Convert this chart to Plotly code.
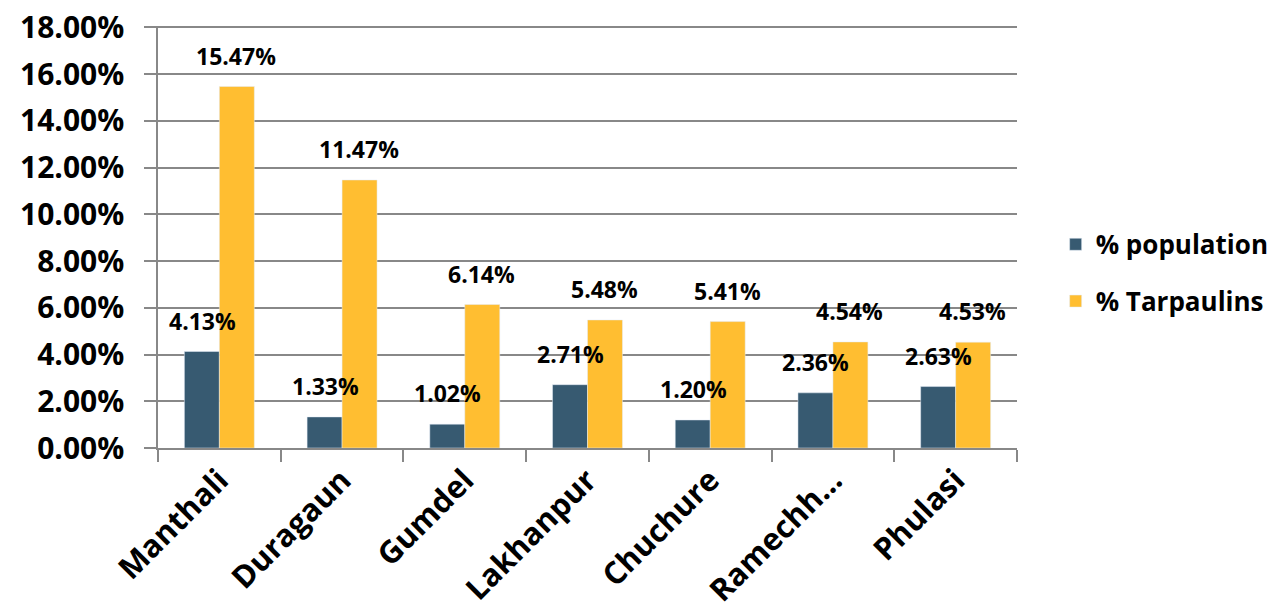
import plotly.graph_objects as go

categories = ["Manthali", "Duragaun", "Gumdel", "Lakhanpur", "Chuchure", "Ramechh...", "Phulasi"]
population = [0.0413, 0.0133, 0.0102, 0.0271, 0.0120, 0.0236, 0.0263]
tarpaulins = [0.1547, 0.1147, 0.0614, 0.0548, 0.0541, 0.0454, 0.0453]
y_ticks = [0.0, 0.02, 0.04, 0.06, 0.08, 0.10, 0.12, 0.14, 0.16, 0.18]

FONT = "Open Sans"
C_POP = "#375A71"
C_TAR = "#FFBE31"

fig = go.Figure()
fig.add_trace(go.Bar(x=categories, y=population, name="% population", marker_color=C_POP,
                     legendgroup="a"))
fig.add_trace(go.Bar(x=categories, y=tarpaulins, name="% Tarpaulins", marker_color=C_TAR,
                     legendgroup="b"))

annos = []
for i, c in enumerate(categories):
    for val, xs in ((population[i], -17), (tarpaulins[i], 17)):
        annos.append(dict(x=c, y=val, xref="x", yref="y", text=f"{val*100:.2f}%",
                          showarrow=False, xshift=xs, yshift=13, yanchor="bottom",
                          font=dict(family=FONT, size=23, color="black", weight="bold")))

fig.update_layout(
    width=1275, height=613,
    margin=dict(l=150, r=266, t=18, b=173, autoexpand=False),
    plot_bgcolor="white", paper_bgcolor="white",
    barmode="group", bargap=0.43, bargroupgap=0,
    annotations=annos,
    font=dict(family=FONT, color="black"),
    legend=dict(x=1.045, y=0.415, xanchor="left", yanchor="middle",
                font=dict(family=FONT, size=26, color="black", weight="bold"),
                tracegroupgap=20, itemwidth=30),
    xaxis=dict(showline=True, linecolor="#888888", linewidth=1.5,
               ticks="outside", ticklen=12, tickcolor="#888888", tickwidth=1.5,
               tickson="boundaries", tickangle=-45, automargin=False,
               ticklabeloverflow="allow",
               tickfont=dict(family=FONT, size=31, color="black", weight="bold")),
    yaxis=dict(range=[0, 0.1806], tickvals=y_ticks, tickformat=".2%", automargin=False,
               showline=True, linecolor="#888888", linewidth=1.5,
               showgrid=True, gridcolor="#888888", gridwidth=1.5,
               ticks="outside", ticklen=12, tickcolor="#888888", tickwidth=1.5,
               zeroline=False, ticklabelstandoff=14, ticklabeloverflow="allow",
               tickfont=dict(family=FONT, size=30, color="black", weight="bold")),
)

fig.write_html("out.html")
